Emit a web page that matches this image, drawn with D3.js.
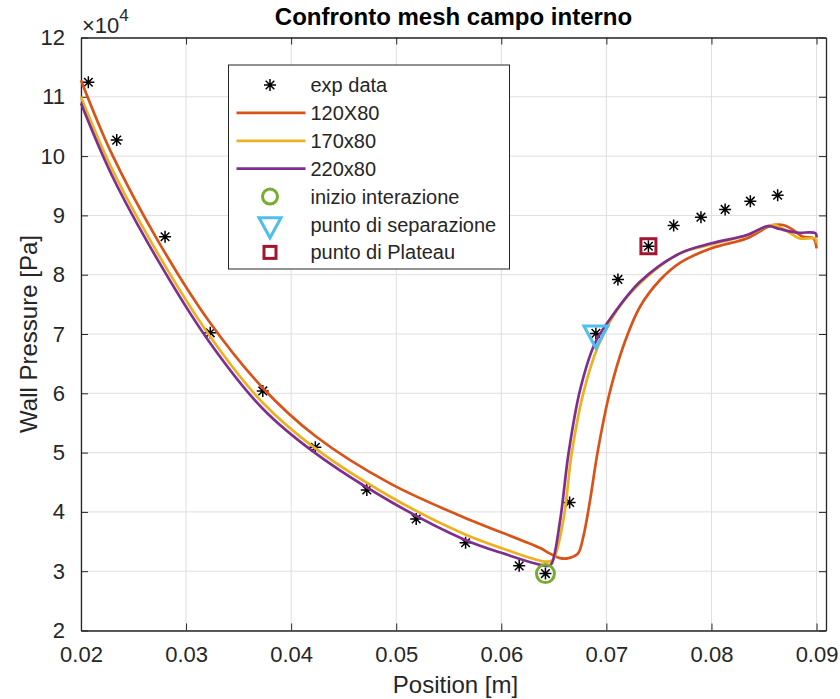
<!DOCTYPE html>
<html>
<head>
<meta charset="utf-8">
<script src="https://cdn.jsdelivr.net/npm/d3@7"></script>
<style>
  html, body { margin: 0; padding: 0; background: #fff; }
  svg { display: block; font-family: "Liberation Sans", Arial, Helvetica, sans-serif; }
</style>
</head>
<body>
<svg id="chart" width="840" height="699"></svg>
<script>
// Experimental wall pressure (x in m, p in 1e4 Pa)
const expX = [0.0207, 0.0234, 0.0280, 0.0323, 0.0373, 0.0423, 0.0472, 0.0519, 0.0566, 0.0617, 0.0642, 0.0665, 0.0690, 0.0711, 0.0740, 0.0764, 0.0790, 0.0813, 0.0837, 0.0863];
const expP = [11.245, 10.27, 8.64, 7.02, 6.04, 5.09, 4.37, 3.88, 3.48, 3.09, 2.96, 4.16, 7.01, 7.92, 8.48, 8.83, 8.97, 9.10, 9.24, 9.34];

// Mesh 120X80
const m120X = [0.0200, 0.0229, 0.0273, 0.0322, 0.0373, 0.0423, 0.0494, 0.0564, 0.0637, 0.0646, 0.0656, 0.0664, 0.0673, 0.0678, 0.0684, 0.0692, 0.0703, 0.0716, 0.0732, 0.0751, 0.0770, 0.0800, 0.0834, 0.0856, 0.0868, 0.0878, 0.0887, 0.0897, 0.0900];
const m120P = [11.28, 10.05, 8.58, 7.21, 6.09, 5.28, 4.48, 3.91, 3.39, 3.30, 3.22, 3.22, 3.30, 3.58, 4.145, 5.044, 6.00, 6.79, 7.46, 7.91, 8.20, 8.445, 8.614, 8.82, 8.838, 8.75, 8.64, 8.614, 8.445];

// Mesh 170x80
const m170X = [0.0200, 0.0229, 0.0273, 0.0322, 0.0373, 0.0423, 0.0494, 0.0564, 0.0600, 0.0643, 0.0649, 0.0659, 0.0667, 0.0678, 0.0692, 0.0710, 0.0732, 0.0770, 0.0800, 0.0834, 0.0854, 0.0860, 0.0875, 0.0884, 0.0899, 0.0900];
const m170P = [11.00, 9.80, 8.36, 6.98, 5.84, 5.07, 4.26, 3.63, 3.39, 3.16, 3.19, 3.86, 4.99, 6.00, 6.79, 7.40, 7.855, 8.36, 8.51, 8.67, 8.82, 8.84, 8.70, 8.61, 8.61, 8.53];

// Mesh 220x80
const m220X = [0.0200, 0.0229, 0.0273, 0.0322, 0.0373, 0.0423, 0.0494, 0.0564, 0.0600, 0.0645, 0.0648, 0.0656, 0.0664, 0.0675, 0.0689, 0.0703, 0.0732, 0.0770, 0.0800, 0.0834, 0.0854, 0.0865, 0.0881, 0.0899, 0.0900];
const m220P = [10.89, 9.69, 8.25, 6.87, 5.74, 4.99, 4.18, 3.54, 3.31, 3.09, 3.13, 3.86, 4.99, 6.06, 6.84, 7.24, 7.88, 8.36, 8.53, 8.67, 8.82, 8.77, 8.71, 8.70, 8.63];

// Highlighted flow features
const startX = [0.0642], startP = [2.96];   // inizio interazione
const sepX = [0.0690], sepP = [7.01];       // punto di separazione
const platX = [0.0740], platP = [8.48];     // punto di Plateau

const xTicks = [0.02, 0.03, 0.04, 0.05, 0.06, 0.07, 0.08, 0.09];
const yTicks = [2, 3, 4, 5, 6, 7, 8, 9, 10, 11, 12];

const C = {
  m120: "#D95319", m170: "#EDB120", m220: "#7E2F8E",
  start: "#77AC30", sep: "#4DBEEE", plat: "#A2142F",
  axis: "#262626", grid: "#dfdfdf"
};

const svg = d3.select("#chart");
const L = 81, R = 826, T = 37.5, B = 630.5;

const x = d3.scaleLinear().domain([0.02, 0.0909]).range([L, R]);
const y = d3.scaleLinear().domain([2, 12]).range([B, T]);

// grid
const g = svg.append("g");
g.selectAll(".gx").data(xTicks).join("line")
  .attr("x1", d => x(d)).attr("x2", d => x(d)).attr("y1", T).attr("y2", B)
  .attr("stroke", C.grid).attr("stroke-width", 1);
g.selectAll(".gy").data(yTicks).join("line")
  .attr("x1", L).attr("x2", R).attr("y1", d => y(d)).attr("y2", d => y(d))
  .attr("stroke", C.grid).attr("stroke-width", 1);

// axes (ticks inward, box on all sides)
const tickLen = 7;
const fmtX = d => d3.format(".2f")(d);
const axB = svg.append("g").attr("transform", `translate(0,${B})`)
  .call(d3.axisBottom(x).tickValues(xTicks).tickFormat(fmtX).tickSizeInner(-tickLen).tickSizeOuter(0).tickPadding(16));
const axT = svg.append("g").attr("transform", `translate(0,${T})`)
  .call(d3.axisTop(x).tickValues(xTicks).tickFormat("").tickSizeInner(-tickLen).tickSizeOuter(0));
const axL = svg.append("g").attr("transform", `translate(${L},0)`)
  .call(d3.axisLeft(y).tickValues(yTicks).tickFormat(d3.format("d")).tickSizeInner(-tickLen).tickSizeOuter(0).tickPadding(16));
const axR = svg.append("g").attr("transform", `translate(${R},0)`)
  .call(d3.axisRight(y).tickValues(yTicks).tickFormat("").tickSizeInner(-tickLen).tickSizeOuter(0));
[axB, axT, axL, axR].forEach(a => {
  a.select(".domain").attr("stroke", C.axis).attr("stroke-width", 1.3);
  a.selectAll(".tick line").attr("stroke", C.axis).attr("stroke-width", 1);
  a.selectAll(".tick text").attr("fill", C.axis).attr("font-size", 22)
    .attr("font-family", "'Liberation Sans', Arial, sans-serif");
});
axB.selectAll(".tick text").attr("dy", "0.71em");

// exponent label
const ex = svg.append("text").attr("x", 82).attr("y", 33).attr("fill", C.axis).attr("font-size", 22);
ex.append("tspan").text("\u00d710");
ex.append("tspan").attr("font-size", 17).attr("dy", -12).text("4");

// title & labels
svg.append("text").attr("x", (L + R) / 2).attr("y", 25).attr("text-anchor", "middle")
  .attr("font-weight", "bold").attr("font-size", 24).attr("fill", "#000").text("Confronto mesh campo interno");
svg.append("text").attr("x", (L + R) / 2 + 2).attr("y", 693).attr("text-anchor", "middle")
  .attr("font-size", 24).attr("fill", C.axis).text("Position [m]");
svg.append("text").attr("transform", `translate(37,${(T + B) / 2}) rotate(-90)`).attr("text-anchor", "middle")
  .attr("font-size", 24).attr("fill", C.axis).text("Wall Pressure [Pa]");

// asterisk marker
function star(s) {
  const d = s * 0.72;
  return `M${-s},0L${s},0M0,${-s}L0,${s}M${-d},${-d}L${d},${d}M${-d},${d}L${d},${-d}`;
}

const plot = svg.append("g");
const expData = expX.map((v, i) => [v, expP[i]]);
plot.selectAll(".exp").data(expData).join("path")
  .attr("transform", d => `translate(${x(d[0])},${y(d[1])})`)
  .attr("d", star(6)).attr("stroke", "#000").attr("stroke-width", 1.5).attr("fill", "none");

const line = d3.line().x(d => x(d[0])).y(d => y(d[1])).curve(d3.curveCatmullRom.alpha(0.5));
const series = [
  { xs: m120X, ps: m120P, c: C.m120 },
  { xs: m170X, ps: m170P, c: C.m170 },
  { xs: m220X, ps: m220P, c: C.m220 }
];
series.forEach(s => {
  plot.append("path").datum(s.xs.map((v, i) => [v, s.ps[i]]))
    .attr("d", line).attr("fill", "none").attr("stroke", s.c).attr("stroke-width", 2.7)
    .attr("stroke-linejoin", "round");
});

// feature markers
function tri(w, h) { // downward triangle centred on its centroid
  return `M${-w / 2},${-h / 3}L${w / 2},${-h / 3}L0,${2 * h / 3}Z`;
}
plot.selectAll(".st").data(startX.map((v, i) => [v, startP[i]])).join("circle")
  .attr("cx", d => x(d[0])).attr("cy", d => y(d[1])).attr("r", 9)
  .attr("fill", "none").attr("stroke", C.start).attr("stroke-width", 3);
plot.selectAll(".sp").data(sepX.map((v, i) => [v, sepP[i]])).join("path")
  .attr("transform", d => `translate(${x(d[0])},${y(d[1])})`).attr("d", tri(24, 22))
  .attr("fill", "none").attr("stroke", C.sep).attr("stroke-width", 3).attr("stroke-linejoin", "miter");
plot.selectAll(".pl").data(platX.map((v, i) => [v, platP[i]])).join("rect")
  .attr("x", d => x(d[0]) - 7.5).attr("y", d => y(d[1]) - 7.5).attr("width", 15).attr("height", 15)
  .attr("fill", "none").attr("stroke", C.plat).attr("stroke-width", 3);

// legend
const lg = svg.append("g").attr("transform", "translate(228.5,65)");
lg.append("rect").attr("width", 281).attr("height", 204).attr("fill", "#fff")
  .attr("stroke", C.axis).attr("stroke-width", 1);
const items = [
  { t: "exp data", k: "star" },
  { t: "120X80", k: "line", c: C.m120 },
  { t: "170x80", k: "line", c: C.m170 },
  { t: "220x80", k: "line", c: C.m220 },
  { t: "inizio interazione", k: "circle", c: C.start },
  { t: "punto di separazione", k: "tri", c: C.sep },
  { t: "punto di Plateau", k: "square", c: C.plat }
];
items.forEach((it, i) => {
  const cy = 20 + i * 27.9;
  const row = lg.append("g").attr("transform", `translate(0,${cy})`);
  const mx = 41.5;
  if (it.k === "star") row.append("path").attr("transform", `translate(${mx},0)`).attr("d", star(6))
    .attr("stroke", "#000").attr("stroke-width", 1.5);
  if (it.k === "line") row.append("line").attr("x1", 8).attr("x2", 77).attr("stroke", it.c).attr("stroke-width", 2.7);
  if (it.k === "circle") row.append("circle").attr("cx", mx).attr("r", 7.5).attr("fill", "none")
    .attr("stroke", it.c).attr("stroke-width", 3);
  if (it.k === "tri") row.append("path").attr("transform", `translate(${mx},0)`).attr("d", tri(22, 20))
    .attr("fill", "none").attr("stroke", it.c).attr("stroke-width", 3);
  if (it.k === "square") row.append("rect").attr("x", mx - 6).attr("y", -6).attr("width", 12).attr("height", 12)
    .attr("fill", "none").attr("stroke", it.c).attr("stroke-width", 3);
  row.append("text").attr("x", 82).attr("y", 0).attr("dy", "0.35em").attr("font-size", 20)
    .attr("fill", C.axis).text(it.t);
});
</script>
</body>
</html>
